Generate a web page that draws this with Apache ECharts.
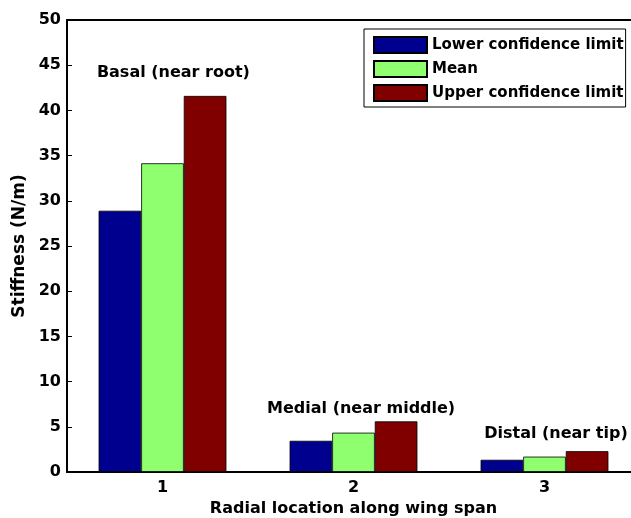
<!DOCTYPE html>
<html><head><meta charset="utf-8">
<script src="https://cdn.jsdelivr.net/npm/echarts@6/dist/echarts.min.js"></script>
<style>html,body{margin:0;padding:0;background:#fff}#c{width:631px;height:518px}</style>
</head><body><div id="c"></div>
<script>
const categories = ['1', '2', '3'];
const seriesNames = ['Lower confidence limit', 'Mean', 'Upper confidence limit'];
const lowerCL = [28.9, 3.45, 1.35];
const meanVals = [34.15, 4.35, 1.7];
const upperCL = [41.6, 5.6, 2.3];
const yTicks = [0, 5, 10, 15, 20, 25, 30, 35, 40, 45, 50];
const annotations = [
  {text: 'Basal (near root)', x: 1.057, y: 44.2},
  {text: 'Medial (near middle)', x: 2.04, y: 7.0},
  {text: 'Distal (near tip)', x: 3.06, y: 4.2}
];
const colors = ['#00008F', '#8FFF70', '#800000'];
const FONT = '"DejaVu Sans", sans-serif';

const chart = echarts.init(document.getElementById('c'), null, {renderer: 'canvas'});
const values = [lowerCL, meanVals, upperCL];
const grid = {left: 67, top: 20, width: 573, height: 452, outerBoundsMode: 'none', containLabel: false};
const option = {
  animation: false,
  backgroundColor: '#fff',
  grid: grid,
  legend: {
    orient: 'vertical', left: 364, top: 29,
    padding: [7, 2, 5, 9],
    itemWidth: 53, itemHeight: 16, itemGap: 6, icon: 'rect',
    borderColor: '#000', borderWidth: 1, backgroundColor: '#fff',
    textStyle: {fontFamily: FONT, fontWeight: 'bold', fontSize: 15, color: '#000', padding: [0,0,0,0]},
    data: seriesNames
  },
  xAxis: [{
    type: 'category', data: categories, position: 'bottom',
    name: 'Radial location along wing span', nameLocation: 'middle', nameGap: 29,
    nameTextStyle: {fontFamily: FONT, fontWeight: 'bold', fontSize: 16, color: '#000'},
    axisLine: {lineStyle: {color: '#000', width: 2}},
    axisTick: {inside: true, alignWithLabel: true, length: 5, lineStyle: {color: '#000'}},
    axisLabel: {fontFamily: FONT, fontWeight: 'bold', fontSize: 16, color: '#000', margin: 8},
    splitLine: {show: false}
  }, {
    type: 'category', data: categories, position: 'top',
    axisLine: {lineStyle: {color: '#000', width: 2}},
    axisTick: {inside: true, alignWithLabel: true, length: 5, lineStyle: {color: '#000'}},
    axisLabel: {show: false}, splitLine: {show: false}
  }],
  yAxis: {
    type: 'value', min: 0, max: 50, interval: 5,
    name: 'Stiffness (N/m)', nameLocation: 'middle', nameGap: 35,
    nameTextStyle: {fontFamily: FONT, fontWeight: 'bold', fontSize: 17, color: '#000'},
    axisLine: {show: true, lineStyle: {color: '#000', width: 2}},
    axisTick: {show: true, inside: true, length: 5, lineStyle: {color: '#000'}},
    axisLabel: {fontFamily: FONT, fontWeight: 'bold', fontSize: 16, color: '#000', margin: 6,
      formatter: v => yTicks.includes(v) ? String(v) : ''},
    splitLine: {show: false}
  },
  series: seriesNames.map((n, i) => ({
    name: n, type: 'bar', data: values[i], barWidth: 42.6, barGap: '0%',
    itemStyle: {color: colors[i], borderColor: '#000', borderWidth: 0.8}
  }))
};
chart.setOption(option);
const xMin = 0.5, xSpan = 3;
chart.setOption({
  graphic: annotations.map(a => {
    const py = chart.convertToPixel({yAxisIndex: 0}, a.y);
    const px = grid.left + (a.x - xMin) / xSpan * grid.width;
    return {type: 'text', x: px, y: py,
      style: {text: a.text, x: 0, y: 0, align: 'center', verticalAlign: 'middle',
        font: 'bold 16px ' + FONT, fill: '#000'}};
  })
});
</script></body></html>
